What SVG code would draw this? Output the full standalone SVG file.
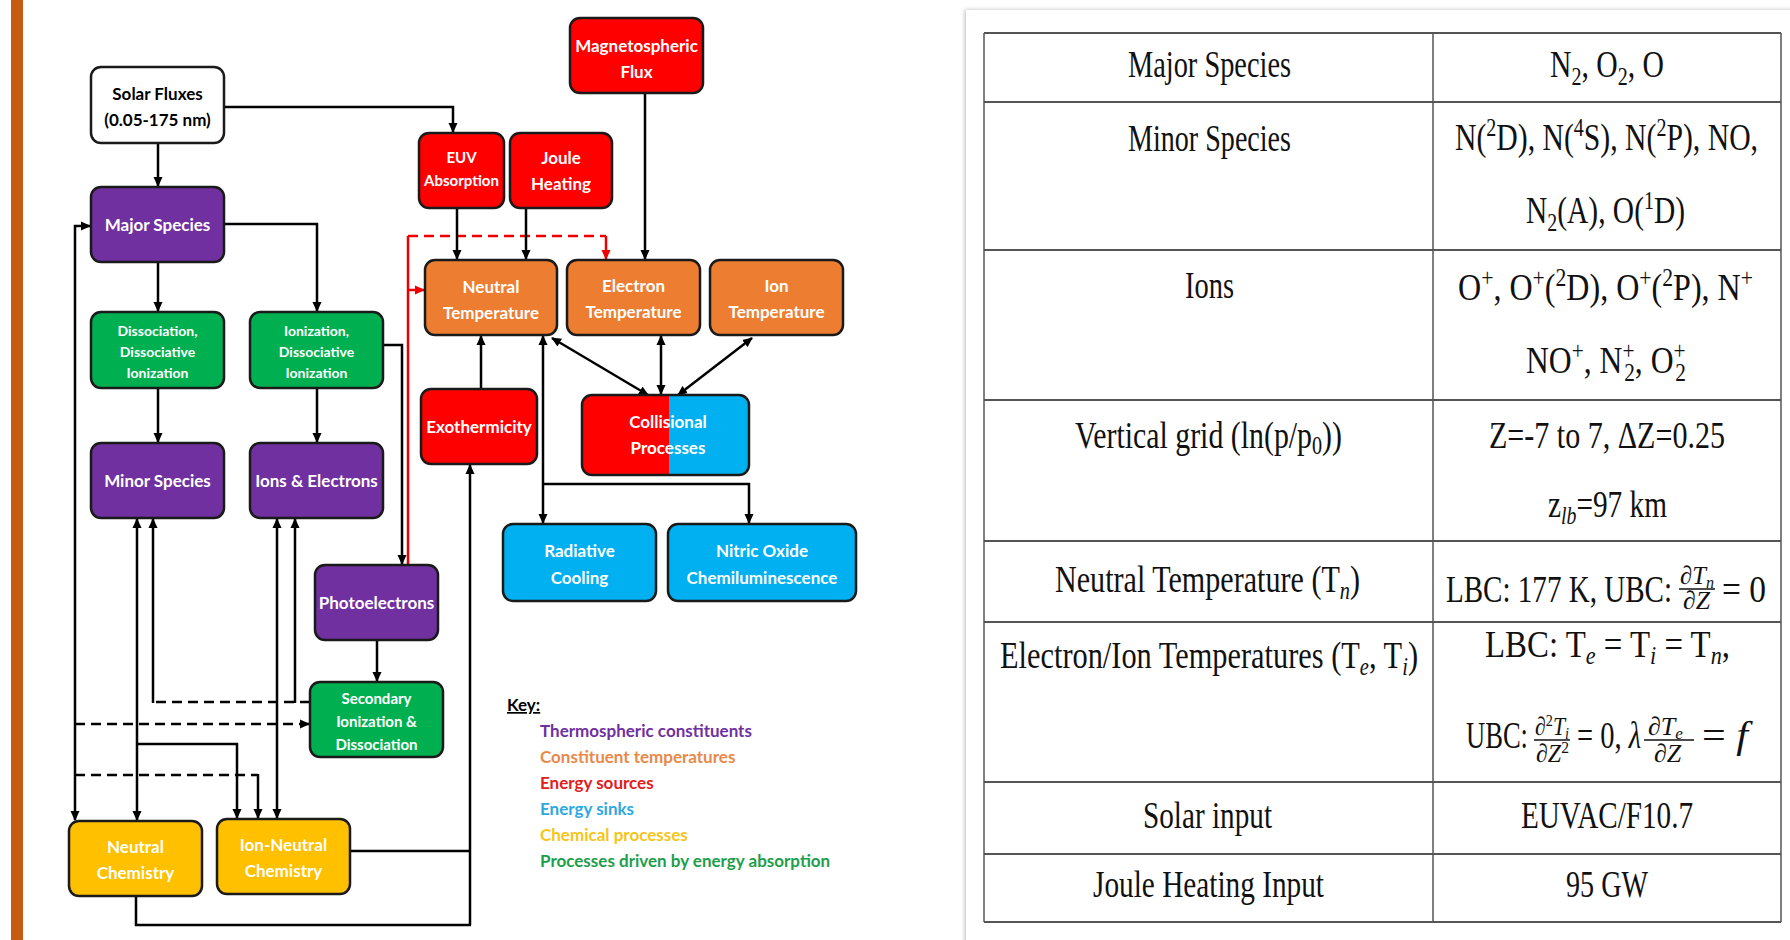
<svg xmlns="http://www.w3.org/2000/svg" width="1790" height="940" viewBox="0 0 1790 940">
<style>
.bx{stroke:#1a1a1a;stroke-width:2.5}
.pu{fill:#7030A0}.gr{fill:#00B050}.or{fill:#ED7D31}.rd{fill:#FF0000}.bl{fill:#00B0F0}.ye{fill:#FFC000}
.l{font-family:Lato,"Open Sans",sans-serif;font-weight:700;fill:#fff;text-anchor:middle;font-size:17px}
.c{fill:none;stroke:#000;stroke-width:2.5}
.d{stroke-dasharray:10 6}
.r{stroke:#ee0000}
.k{font-family:Lato,"Open Sans",sans-serif;font-weight:700;font-size:17px}
.t{font-family:"Liberation Serif","Times New Roman",serif;font-size:37px;fill:#111}
.tl{stroke:#555;stroke-width:2}
.tv{stroke:#555;stroke-width:1.5}
.fr{font-family:"Liberation Serif","Times New Roman",serif;font-size:26px;fill:#111}
</style>
<defs>
<marker id="a" markerUnits="userSpaceOnUse" markerWidth="10" markerHeight="10" refX="9" refY="5" orient="auto-start-reverse"><path d="M0,0.5 L10,5 L0,9.5 z" fill="#000"/></marker>
<marker id="ar" markerUnits="userSpaceOnUse" markerWidth="10" markerHeight="10" refX="9" refY="5" orient="auto-start-reverse"><path d="M0,0.5 L10,5 L0,9.5 z" fill="#ee0000"/></marker>
<clipPath id="cc"><rect x="582" y="395" width="167" height="80" rx="10"/></clipPath>
<filter id="sh" x="-5%" y="-5%" width="110%" height="110%"><feDropShadow dx="-1" dy="0" stdDeviation="2" flood-color="#888" flood-opacity="0.6"/></filter>
</defs>
<rect x="0" y="0" width="1790" height="940" fill="#fff"/>
<rect x="11" y="0" width="12" height="940" fill="#C55A11"/>

<g id="connectors">
<path class="c" d="M224,107 H453 V132" marker-end="url(#a)"/>
<path class="c" d="M158,143 V186" marker-end="url(#a)"/>
<path class="c" d="M224,224 H317 V311" marker-end="url(#a)"/>
<path class="c" d="M158,262 V311" marker-end="url(#a)"/>
<path class="c" d="M158,388 V442" marker-end="url(#a)"/>
<path class="c" d="M317,388 V442" marker-end="url(#a)"/>
<path class="c" d="M383,345 H402 V564" marker-end="url(#a)"/>
<path class="c r" d="M408,565 V236"/>
<path class="c r d" d="M408,236 H606"/>
<path class="c r" d="M606,236 V259" marker-end="url(#ar)"/>
<path class="c r" d="M408,290 H424" marker-end="url(#ar)"/>
<path class="c" d="M457,208 V259" marker-end="url(#a)"/>
<path class="c" d="M526,208 V259" marker-end="url(#a)"/>
<path class="c" d="M645,93 V259" marker-end="url(#a)"/>
<path class="c" d="M481,389 V336" marker-end="url(#a)"/>
<path class="c" d="M543,336 V523" marker-start="url(#a)" marker-end="url(#a)"/>
<path class="c" d="M543,484 H749 V523" marker-end="url(#a)"/>
<path class="c" d="M552,338 L648,395" marker-start="url(#a)" marker-end="url(#a)"/>
<path class="c" d="M661,336 V394" marker-start="url(#a)" marker-end="url(#a)"/>
<path class="c" d="M752,338 L678,395" marker-start="url(#a)" marker-end="url(#a)"/>
<path class="c" d="M90,226 H75 V820" marker-start="url(#a)" marker-end="url(#a)"/>
<path class="c" d="M377,640 V681" marker-end="url(#a)"/>
<path class="c d" d="M75,724 H309" marker-end="url(#a)"/>
<path class="c d" d="M75,775 H258"/>
<path class="c" d="M258,774 V818" marker-end="url(#a)"/>
<path class="c" d="M137,519 V820" marker-start="url(#a)" marker-end="url(#a)"/>
<path class="c" d="M137,744 H237 V818" marker-end="url(#a)"/>
<path class="c" d="M277,519 V818" marker-start="url(#a)" marker-end="url(#a)"/>
<path class="c d" d="M310,702 H153"/>
<path class="c" d="M153,703 V519" marker-end="url(#a)"/>
<path class="c" d="M295,703 V519" marker-end="url(#a)"/>
<path class="c" d="M350,851 H470"/>
<path class="c" d="M470,925 V465" marker-end="url(#a)"/>
<path class="c" d="M136,896 V925 H471"/>
</g>

<g id="solar"><rect class="bx" x="91" y="67" width="133" height="76" rx="10" fill="#fff"/><text class="l" x="157.5" y="100" style="fill:#000">Solar Fluxes</text><text class="l" x="157.5" y="126" style="fill:#000">(0.05-175 nm)</text></g>
<g id="major"><rect class="bx pu" x="91" y="187" width="133" height="75" rx="10"/><text class="l" x="157.5" y="231">Major Species</text></g>
<g id="dissoc"><rect class="bx gr" x="91" y="312" width="133" height="76" rx="10"/><text class="l" x="157.5" y="336" style="font-size:14px">Dissociation,</text><text class="l" x="157.5" y="357" style="font-size:14px">Dissociative</text><text class="l" x="157.5" y="378" style="font-size:14px">Ionization</text></g>
<g id="ioniz"><rect class="bx gr" x="250" y="312" width="133" height="76" rx="10"/><text class="l" x="316.5" y="336" style="font-size:14px">Ionization,</text><text class="l" x="316.5" y="357" style="font-size:14px">Dissociative</text><text class="l" x="316.5" y="378" style="font-size:14px">Ionization</text></g>
<g id="minor"><rect class="bx pu" x="91" y="443" width="133" height="75" rx="10"/><text class="l" x="157.5" y="487">Minor Species</text></g>
<g id="ions"><rect class="bx pu" x="250" y="443" width="133" height="75" rx="10"/><text class="l" x="316.5" y="487">Ions &amp; Electrons</text></g>
<g id="photo"><rect class="bx pu" x="315" y="565" width="123" height="75" rx="10"/><text class="l" x="376.5" y="609">Photoelectrons</text></g>
<g id="secondary"><rect class="bx gr" x="310" y="682" width="133" height="75" rx="10"/><text class="l" x="376.5" y="704" style="font-size:15px">Secondary</text><text class="l" x="376.5" y="727" style="font-size:15px">Ionization &amp;</text><text class="l" x="376.5" y="750" style="font-size:15px">Dissociation</text></g>
<g id="neutchem"><rect class="bx ye" x="69" y="821" width="133" height="75" rx="10"/><text class="l" x="135.5" y="853">Neutral</text><text class="l" x="135.5" y="879">Chemistry</text></g>
<g id="ionneut"><rect class="bx ye" x="217" y="819" width="133" height="75" rx="10"/><text class="l" x="283.5" y="851">Ion-Neutral</text><text class="l" x="283.5" y="877">Chemistry</text></g>
<g id="euv"><rect class="bx rd" x="419" y="133" width="85" height="75" rx="10"/><text class="l" x="461.5" y="163" style="font-size:15px">EUV</text><text class="l" x="461.5" y="186" style="font-size:15px">Absorption</text></g>
<g id="joule"><rect class="bx rd" x="510" y="133" width="102" height="75" rx="10"/><text class="l" x="561" y="164">Joule</text><text class="l" x="561" y="190">Heating</text></g>
<g id="magneto"><rect class="bx rd" x="570" y="18" width="133" height="75" rx="10"/><text class="l" x="636.5" y="52">Magnetospheric</text><text class="l" x="636.5" y="78">Flux</text></g>
<g id="tn"><rect class="bx or" x="425" y="260" width="132" height="75" rx="10"/><text class="l" x="491" y="293">Neutral</text><text class="l" x="491" y="319">Temperature</text></g>
<g id="te"><rect class="bx or" x="567" y="260" width="133" height="75" rx="10"/><text class="l" x="633.5" y="292">Electron</text><text class="l" x="633.5" y="318">Temperature</text></g>
<g id="ti"><rect class="bx or" x="710" y="260" width="133" height="75" rx="10"/><text class="l" x="776.5" y="292">Ion</text><text class="l" x="776.5" y="318">Temperature</text></g>
<g id="exo"><rect class="bx rd" x="421" y="389" width="116" height="75" rx="10"/><text class="l" x="479" y="433">Exothermicity</text></g>
<g id="collis"><g clip-path="url(#cc)"><rect x="582" y="395" width="87" height="80" fill="#FF0000"/><rect x="669" y="395" width="80" height="80" fill="#00B0F0"/></g><rect class="bx" x="582" y="395" width="167" height="80" rx="10" fill="none"/><text class="l" x="668" y="428">Collisional</text><text class="l" x="668" y="454">Processes</text></g>
<g id="radcool"><rect class="bx bl" x="503" y="524" width="153" height="77" rx="10"/><text class="l" x="579.5" y="557">Radiative</text><text class="l" x="579.5" y="584">Cooling</text></g>
<g id="nitric"><rect class="bx bl" x="668" y="524" width="188" height="77" rx="10"/><text class="l" x="762" y="557">Nitric Oxide</text><text class="l" x="762" y="584">Chemiluminescence</text></g>

<g id="key">
<text class="k" x="507" y="711" fill="#000" text-decoration="underline">Key:</text>
<text class="k" x="540" y="737" fill="#7030A0">Thermospheric constituents</text>
<text class="k" x="540" y="763" fill="#E8894A">Constituent temperatures</text>
<text class="k" x="540" y="789" fill="#E0201B">Energy sources</text>
<text class="k" x="540" y="815" fill="#2EA8E0">Energy sinks</text>
<text class="k" x="540" y="841" fill="#F5C518">Chemical processes</text>
<text class="k" x="540" y="867" fill="#1E9E4A">Processes driven by energy absorption</text>
</g>

<g id="table">
<rect x="966" y="10" width="840" height="940" fill="#fff" filter="url(#sh)"/>
<line class="tl" x1="984" y1="33" x2="1781" y2="33"/>
<line class="tl" x1="984" y1="102" x2="1781" y2="102"/>
<line class="tl" x1="984" y1="250" x2="1781" y2="250"/>
<line class="tl" x1="984" y1="400" x2="1781" y2="400"/>
<line class="tl" x1="984" y1="541" x2="1781" y2="541"/>
<line class="tl" x1="984" y1="622" x2="1781" y2="622"/>
<line class="tl" x1="984" y1="782" x2="1781" y2="782"/>
<line class="tl" x1="984" y1="854" x2="1781" y2="854"/>
<line class="tl" x1="984" y1="922" x2="1781" y2="922"/>
<line class="tv" x1="984" y1="33" x2="984" y2="922"/>
<line class="tv" x1="1433" y1="33" x2="1433" y2="922"/>
<line class="tv" x1="1781" y1="33" x2="1781" y2="922"/>

<text class="t" x="1128" y="77" textLength="163" lengthAdjust="spacingAndGlyphs">Major Species</text>
<text class="t" x="1550" y="77" textLength="114" lengthAdjust="spacingAndGlyphs">N<tspan font-size="25" dy="8">2</tspan><tspan dy="-8">, O</tspan><tspan font-size="25" dy="8">2</tspan><tspan dy="-8">, O</tspan></text>

<text class="t" x="1128" y="151" textLength="163" lengthAdjust="spacingAndGlyphs">Minor Species</text>
<text class="t" x="1455" y="150" textLength="303" lengthAdjust="spacingAndGlyphs">N(<tspan font-size="25" dy="-14">2</tspan><tspan dy="14">D), N(</tspan><tspan font-size="25" dy="-14">4</tspan><tspan dy="14">S), N(</tspan><tspan font-size="25" dy="-14">2</tspan><tspan dy="14">P), NO,</tspan></text>
<text class="t" x="1526" y="223" textLength="159" lengthAdjust="spacingAndGlyphs">N<tspan font-size="25" dy="8">2</tspan><tspan dy="-8">(A), O(</tspan><tspan font-size="25" dy="-14">1</tspan><tspan dy="14">D)</tspan></text>

<text class="t" x="1185" y="298" textLength="49" lengthAdjust="spacingAndGlyphs">Ions</text>
<text class="t" x="1458" y="300" textLength="295" lengthAdjust="spacingAndGlyphs">O<tspan font-size="25" dy="-14">+</tspan><tspan dy="14">, O</tspan><tspan font-size="25" dy="-14">+</tspan><tspan dy="14">(</tspan><tspan font-size="25" dy="-14">2</tspan><tspan dy="14">D), O</tspan><tspan font-size="25" dy="-14">+</tspan><tspan dy="14">(</tspan><tspan font-size="25" dy="-14">2</tspan><tspan dy="14">P), N</tspan><tspan font-size="25" dy="-14">+</tspan></text>
<text class="t" x="1526" y="373" textLength="160" lengthAdjust="spacingAndGlyphs">NO<tspan font-size="25" dy="-14">+</tspan><tspan dy="14">, N</tspan><tspan font-size="25" dy="-14">+</tspan><tspan font-size="25" dx="-12" dy="22">2</tspan><tspan dy="-8">, O</tspan><tspan font-size="25" dy="-14">+</tspan><tspan font-size="25" dx="-12" dy="22">2</tspan></text>

<text class="t" x="1075" y="448" textLength="267" lengthAdjust="spacingAndGlyphs">Vertical grid (ln(p/p<tspan font-size="25" dy="6">0</tspan><tspan dy="-6">))</tspan></text>
<text class="t" x="1489" y="448" textLength="236" lengthAdjust="spacingAndGlyphs">Z=-7 to 7, ΔZ=0.25</text>
<text class="t" x="1548" y="517" textLength="119" lengthAdjust="spacingAndGlyphs">z<tspan font-size="25" dy="7" font-style="italic">lb</tspan><tspan dy="-7">=97 km</tspan></text>

<text class="t" x="1055" y="592" textLength="305" lengthAdjust="spacingAndGlyphs">Neutral Temperature (T<tspan font-size="25" dy="7" font-style="italic">n</tspan><tspan dy="-7">)</tspan></text>
<text class="t" x="1446" y="602" textLength="226" lengthAdjust="spacingAndGlyphs">LBC: 177 K, UBC:</text>
<text class="fr" x="1680" y="584" textLength="34" lengthAdjust="spacingAndGlyphs">∂<tspan font-style="italic">T</tspan><tspan font-size="17" dy="4" font-style="italic">n</tspan></text>
<line x1="1679" y1="589" x2="1715" y2="589" stroke="#111" stroke-width="1.5"/>
<text class="fr" x="1683" y="609" textLength="27" lengthAdjust="spacingAndGlyphs">∂<tspan font-style="italic">Z</tspan></text>
<text class="t" x="1722" y="602" textLength="44" lengthAdjust="spacingAndGlyphs">= 0</text>

<text class="t" x="1000" y="668" textLength="418" lengthAdjust="spacingAndGlyphs">Electron/Ion Temperatures (T<tspan font-size="25" dy="7" font-style="italic">e</tspan><tspan dy="-7">, T</tspan><tspan font-size="25" dy="7" font-style="italic">i</tspan><tspan dy="-7">)</tspan></text>
<text class="t" x="1485" y="657" textLength="245" lengthAdjust="spacingAndGlyphs">LBC: T<tspan font-size="25" dy="7" font-style="italic">e</tspan><tspan dy="-7"> = T</tspan><tspan font-size="25" dy="7" font-style="italic">i</tspan><tspan dy="-7"> = T</tspan><tspan font-size="25" dy="7" font-style="italic">n</tspan><tspan dy="-7">,</tspan></text>
<text class="t" x="1466" y="748" textLength="62" lengthAdjust="spacingAndGlyphs">UBC:</text>
<text class="fr" x="1535" y="735" textLength="34" lengthAdjust="spacingAndGlyphs">∂<tspan font-size="17" dy="-9">2</tspan><tspan font-style="italic" dy="9">T</tspan><tspan font-size="17" dy="4" font-style="italic">i</tspan></text>
<line x1="1534" y1="740" x2="1570" y2="740" stroke="#111" stroke-width="1.5"/>
<text class="fr" x="1536" y="762" textLength="33" lengthAdjust="spacingAndGlyphs">∂<tspan font-style="italic">Z</tspan><tspan font-size="17" dy="-9">2</tspan></text>
<text class="t" x="1577" y="748" textLength="64" lengthAdjust="spacingAndGlyphs">= 0, <tspan font-style="italic">λ</tspan></text>
<text class="fr" x="1648" y="735" font-size="27">∂<tspan font-style="italic">T</tspan><tspan font-size="17" dy="4" font-style="italic">e</tspan></text>
<line x1="1644" y1="740" x2="1694" y2="740" stroke="#111" stroke-width="1.5"/>
<text class="fr" x="1654" y="762" font-size="27">∂<tspan font-style="italic">Z</tspan></text>
<text class="t" x="1702" y="748" textLength="46" lengthAdjust="spacingAndGlyphs">= <tspan font-style="italic">f</tspan></text>

<text class="t" x="1143" y="828" textLength="129" lengthAdjust="spacingAndGlyphs">Solar input</text>
<text class="t" x="1521" y="828" textLength="172" lengthAdjust="spacingAndGlyphs">EUVAC/F10.7</text>
<text class="t" x="1093" y="897" textLength="231" lengthAdjust="spacingAndGlyphs">Joule Heating Input</text>
<text class="t" x="1566" y="897" textLength="82" lengthAdjust="spacingAndGlyphs">95 GW</text>
</g>
</svg>
